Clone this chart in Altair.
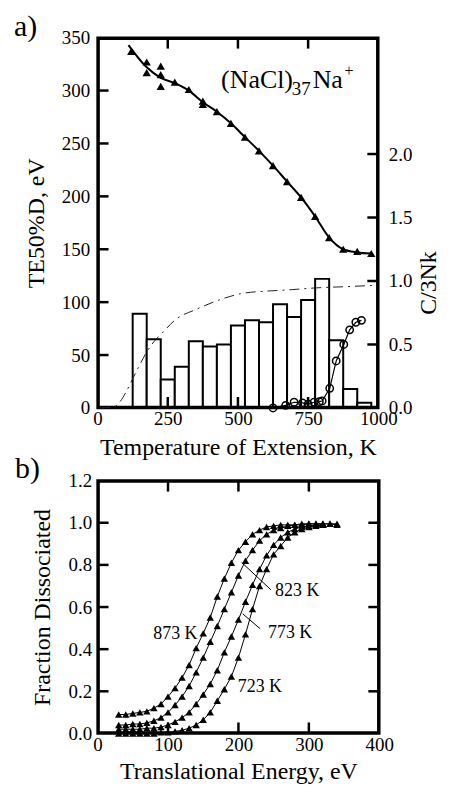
import altair as alt
import pandas as pd

# ---------------- panel a data ----------------
bar_T = [150, 200, 250, 300, 350, 400, 450, 500, 550, 600, 650, 700, 750, 800, 850, 900, 950]
bar_E = [89, 65, 27, 39, 63, 58, 60, 78, 83, 81, 98, 86, 102, 122, 64, 18, 5]

tri_T = [120, 175, 175, 225, 225, 225, 275, 325, 375, 375, 425, 475, 525, 575, 625, 675, 725, 775, 825, 875, 925, 975]
tri_E = [337, 327, 317, 323, 315, 304, 308, 301, 290, 287, 280, 269, 256, 243, 229, 214, 199, 181, 161, 150, 148, 146]

fit_T = [110, 175, 225, 275, 325, 375, 425, 475, 525, 575, 625, 675, 725, 775, 825, 875, 925, 975]
fit_E = [343, 322, 312, 307, 300, 289, 280, 269, 256, 243, 229, 214, 199, 181, 161, 150, 147, 146]

cv_T = [10, 60, 80, 100, 125, 150, 175, 200, 230, 280, 350, 430, 510, 600, 680, 780, 880, 980]
cv_C = [0, 0.01, 0.05, 0.12, 0.23, 0.34, 0.44, 0.52, 0.59, 0.70, 0.775, 0.848, 0.90, 0.92, 0.93, 0.946, 0.955, 0.965]

circ_T = [625, 670, 700, 730, 750, 771, 790, 800, 827, 850, 877, 898, 920, 940]
circ_C = [0.0, 0.02, 0.045, 0.04, 0.03, 0.045, 0.05, 0.055, 0.155, 0.37, 0.5, 0.615, 0.675, 0.69]

xA_ticks = [0, 250, 500, 750, 1000]
xA_inner = [250, 500, 750]
yA_ticks = [0, 50, 100, 150, 200, 250, 300, 350]
yA_inner = [50, 100, 150, 200, 250, 300]
yR_ticks = [0.0, 0.5, 1.0, 1.5, 2.0]
yR_inner = [0.5, 1.0, 1.5, 2.0]

# ---------------- panel b data ----------------
e873 = [30, 40, 50, 60, 70, 80, 90, 100, 110, 120, 130, 140, 150, 160, 170, 180, 190, 200, 210, 220,
        230, 240, 250, 260, 270, 280, 290, 300, 310, 320, 330, 340]
f873 = [0.09, 0.09, 0.095, 0.10, 0.105, 0.12, 0.14, 0.175, 0.215, 0.265, 0.325, 0.405, 0.475, 0.55,
        0.65, 0.735, 0.81, 0.87, 0.91, 0.945, 0.965, 0.98, 0.985, 0.99, 0.99, 0.99, 0.995, 0.995,
        0.995, 0.995, 0.995, 0.99]
e823 = [30, 40, 50, 60, 70, 80, 90, 100, 110, 120, 130, 140, 150, 160, 170, 180, 190, 200, 210, 220,
        230, 240, 250, 260, 270, 280, 290, 300, 310, 320, 330, 340]
f823 = [0.04, 0.04, 0.045, 0.045, 0.05, 0.06, 0.075, 0.10, 0.135, 0.175, 0.225, 0.29, 0.36, 0.435,
        0.51, 0.59, 0.67, 0.75, 0.82, 0.87, 0.915, 0.945, 0.965, 0.975, 0.985, 0.99, 0.99, 0.995,
        0.995, 0.995, 0.995, 0.995]
e773 = [30, 40, 50, 60, 70, 80, 90, 100, 110, 120, 130, 140, 150, 160, 170, 180, 190, 200, 210, 220,
        230, 240, 250, 260, 270, 280, 290, 300, 310, 320]
f773 = [0.02, 0.02, 0.02, 0.02, 0.025, 0.025, 0.03, 0.04, 0.055, 0.075, 0.10, 0.14, 0.185, 0.235,
        0.30, 0.385, 0.46, 0.54, 0.625, 0.705, 0.78, 0.845, 0.895, 0.93, 0.955, 0.97, 0.98, 0.985,
        0.99, 0.99]
e723 = [30, 40, 50, 60, 70, 80, 90, 100, 110, 120, 130, 140, 150, 160, 170, 180, 190, 200, 210, 220,
        230, 240, 250, 260, 270, 280, 290, 300, 310, 320]
f723 = [0.0, 0.0, 0.0, 0.0, 0.0, 0.0, 0.005, 0.005, 0.01, 0.015, 0.025, 0.04, 0.065, 0.10, 0.155,
        0.21, 0.27, 0.36, 0.47, 0.59, 0.70, 0.78, 0.85, 0.89, 0.93, 0.955, 0.97, 0.98, 0.985, 0.99]

lab_text = ["873 K", "823 K", "773 K", "723 K"]
lab_x = [79, 252, 242, 199]
lab_y = [0.47, 0.675, 0.477, 0.222]
lead_x = [204.5, 206]
lead_y = [0.812, 0.568]
lead_x2 = [246, 230.8]
lead_y2 = [0.682, 0.497]

xB_ticks = [0, 100, 200, 300, 400]
xB_inner = [100, 200, 300]
yB_ticks = [0.0, 0.2, 0.4, 0.6, 0.8, 1.0, 1.2]
yB_inner = [0.2, 0.4, 0.6, 0.8, 1.0]

FONT = "Liberation Serif"
W_A, H_A = 282, 372
W_B, H_B = 283, 254
TL = 11      # inward tick length, px
TW = 2.5     # frame / tick width
INSET = 1.0  # px the frame is pulled inside the plot edge

one = pd.DataFrame({"k": [0]})


def frame_rect(xd, yd, xs, ys, ax, ay, px, py):
    df = pd.DataFrame({"x0": [xd[0] + INSET * px], "x1": [xd[1] - INSET * px],
                       "y0": [yd[0] + INSET * py], "y1": [yd[1] - INSET * py]})
    return (alt.Chart(df).mark_rect(fillOpacity=0, stroke="black", strokeWidth=TW)
            .encode(x=alt.X("x0:Q", scale=xs, axis=ax), x2="x1:Q",
                    y=alt.Y("y0:Q", scale=ys, axis=ay), y2="y1:Q"))


def tick_lines(pairs, xs, ys, ax, ay):
    # pairs: list of ((x0, y0), (x1, y1)) segments in data units
    rows = []
    for k, ((x0, y0), (x1, y1)) in enumerate(pairs):
        rows.append({"id": k, "i": 0, "tx": x0, "ty": y0})
        rows.append({"id": k, "i": 1, "tx": x1, "ty": y1})
    return (alt.Chart(pd.DataFrame(rows)).mark_line(color="black", strokeWidth=TW)
            .encode(x=alt.X("tx:Q", scale=xs, axis=ax), y=alt.Y("ty:Q", scale=ys, axis=ay),
                    detail="id:N", order="i:Q"))


# ---------------- panel a ----------------
xdA, ydA, ydR = [0, 1000], [0, 350], [0, 350 / 120]
xsA = alt.Scale(domain=xdA, nice=False, zero=False)
ysA = alt.Scale(domain=ydA, nice=False)
ysR = alt.Scale(domain=ydR, nice=False)
pxA = (xdA[1] - xdA[0]) / W_A      # data units per px
pyA = (ydA[1] - ydA[0]) / H_A
pyR = (ydR[1] - ydR[0]) / H_A

axXA = alt.Axis(title="Temperature of Extension, K", values=xA_ticks, format="d", labelPadding=2,
                titleY=47, titleBaseline="alphabetic")
axYA = alt.Axis(title="TE50%D, eV", values=yA_ticks, format="d", labelPadding=8, titleX=-54,
                titleBaseline="alphabetic")
axYR = alt.Axis(title="C/3Nk", orient="right", values=yR_ticks, format=".1f", labelPadding=10,
                titleAngle=270, titleX=57, titleY=246, titleBaseline="alphabetic")

bars = (alt.Chart(pd.DataFrame({"T": bar_T, "E": bar_E}))
        .transform_calculate(lo="datum.T - 25", hi="datum.T + 25")
        .mark_rect(fill="white", stroke="black", strokeWidth=2)
        .encode(x=alt.X("lo:Q", scale=xsA, axis=axXA), x2="hi:Q",
                y=alt.Y("E:Q", scale=ysA, axis=axYA), y2=alt.datum(0)))

fit = (alt.Chart(pd.DataFrame({"T": fit_T, "E": fit_E}))
       .mark_line(color="black", strokeWidth=2, interpolate="monotone")
       .encode(x=alt.X("T:Q", scale=xsA, axis=axXA), y=alt.Y("E:Q", scale=ysA, axis=axYA)))

tri = (alt.Chart(pd.DataFrame({"T": tri_T, "E": tri_E}))
       .mark_point(shape="triangle-up", filled=True, color="black", size=70, opacity=1)
       .encode(x=alt.X("T:Q", scale=xsA, axis=axXA), y=alt.Y("E:Q", scale=ysA, axis=axYA)))

ann_df = pd.DataFrame({"T": [440], "E": [302]})
ann_enc = dict(x=alt.X("T:Q", scale=xsA, axis=axXA), y=alt.Y("E:Q", scale=ysA, axis=axYA))
ann1 = alt.Chart(ann_df).mark_text(text="(NaCl)", align="left", baseline="alphabetic",
                                   fontSize=26, font=FONT, color="black").encode(**ann_enc)
ann2 = alt.Chart(ann_df).mark_text(text="37", align="left", baseline="alphabetic", dx=71, dy=7,
                                   fontSize=19, font=FONT, color="black").encode(**ann_enc)
ann3 = alt.Chart(ann_df).mark_text(text="Na", align="left", baseline="alphabetic", dx=92,
                                   fontSize=26, font=FONT, color="black").encode(**ann_enc)
ann4 = alt.Chart(ann_df).mark_text(text="+", align="left", baseline="alphabetic", dx=124, dy=-13,
                                   fontSize=16, font=FONT, color="black").encode(**ann_enc)

alab = (alt.Chart(one)
        .mark_text(text="a)", align="left", baseline="alphabetic", fontSize=30, font=FONT, color="black")
        .encode(x=alt.value(-84), y=alt.value(-2)))

curve = (alt.Chart(pd.DataFrame({"T": cv_T, "C": cv_C}))
         .mark_line(color="#222222", strokeWidth=1, strokeDash=[10, 5, 2, 5], interpolate="monotone")
         .encode(x=alt.X("T:Q", scale=xsA, axis=axXA), y=alt.Y("C:Q", scale=ysR, axis=axYR)))

circ_line = (alt.Chart(pd.DataFrame({"T": circ_T, "C": circ_C}))
             .mark_line(color="black", strokeWidth=1.2)
             .encode(x=alt.X("T:Q", scale=xsA, axis=axXA), y=alt.Y("C:Q", scale=ysR, axis=axYR)))
circ_pts = (alt.Chart(pd.DataFrame({"T": circ_T, "C": circ_C}))
            .mark_point(shape="circle", filled=False, color="black", size=55, strokeWidth=1.5, opacity=1)
            .encode(x=alt.X("T:Q", scale=xsA, axis=axXA), y=alt.Y("C:Q", scale=ysR, axis=axYR)))

ticksA = ([((xdA[0], v), (xdA[0] + TL * pxA, v)) for v in yA_inner]
          + [((v, ydA[1]), (v, ydA[1] - TL * pyA)) for v in xA_inner]
          + [((v, ydA[0]), (v, ydA[0] + TL * pyA)) for v in xA_inner])
ticksR = [((xdA[1] - TL * pxA, v), (xdA[1], v)) for v in yR_inner]

leftA = alt.layer(bars, fit, tri,
                  tick_lines(ticksA, xsA, ysA, axXA, axYA),
                  frame_rect(xdA, ydA, xsA, ysA, axXA, axYA, pxA, pyA),
                  ann1, ann2, ann3, ann4, alab)
rightA = alt.layer(curve, circ_line, circ_pts, tick_lines(ticksR, xsA, ysR, axXA, axYR))
panelA = (alt.layer(leftA, rightA).resolve_scale(y="independent")
          .properties(width=W_A, height=H_A))

# ---------------- panel b ----------------
xdB, ydB = [0, 400], [0, 1.2]
xsB = alt.Scale(domain=xdB, nice=False, zero=False)
ysB = alt.Scale(domain=ydB, nice=False)
pxB = (xdB[1] - xdB[0]) / W_B
pyB = (ydB[1] - ydB[0]) / H_B
axXB = alt.Axis(title="Translational Energy, eV", values=xB_ticks, format="d", labelPadding=2,
                titleY=45, titleBaseline="alphabetic")
axYB = alt.Axis(title="Fraction Dissociated", values=yB_ticks, format=".1f", labelPadding=6,
                titleX=-48, titleBaseline="alphabetic")

rows = []
for name, xs, ys in [("873", e873, f873), ("823", e823, f823), ("773", e773, f773), ("723", e723, f723)]:
    for a, b in zip(xs, ys):
        rows.append({"curve": name, "E": a, "F": b})
dfB = pd.DataFrame(rows)

encB = dict(x=alt.X("E:Q", scale=xsB, axis=axXB), y=alt.Y("F:Q", scale=ysB, axis=axYB), detail="curve:N")
linesB = alt.Chart(dfB).mark_line(color="black", strokeWidth=1).encode(**encB)
ptsB = (alt.Chart(dfB).mark_point(shape="triangle-up", filled=True, color="black", size=55, opacity=1)
        .encode(**encB))

lblB = (alt.Chart(pd.DataFrame({"E": lab_x, "F": lab_y, "t": lab_text}))
        .mark_text(align="left", baseline="middle", fontSize=18, font=FONT, color="black")
        .encode(x=alt.X("E:Q", scale=xsB, axis=axXB), y=alt.Y("F:Q", scale=ysB, axis=axYB), text="t:N"))
leadB = (alt.Chart(pd.DataFrame({"E": lead_x, "F": lead_y, "E2": lead_x2, "F2": lead_y2}))
         .mark_rule(color="black", strokeWidth=1)
         .encode(x=alt.X("E:Q", scale=xsB, axis=axXB), y=alt.Y("F:Q", scale=ysB, axis=axYB),
                 x2="E2:Q", y2="F2:Q"))

blab = (alt.Chart(one)
        .mark_text(text="b)", align="left", baseline="alphabetic", fontSize=30, font=FONT, color="black")
        .encode(x=alt.value(-83), y=alt.value(-3)))

ticksB = ([((xdB[0], v), (xdB[0] + TL * pxB, v)) for v in yB_inner]
          + [((xdB[1] - TL * pxB, v), (xdB[1], v)) for v in yB_inner]
          + [((v, ydB[1]), (v, ydB[1] - TL * pyB)) for v in xB_inner]
          + [((v, ydB[0]), (v, ydB[0] + TL * pyB)) for v in xB_inner])

panelB = alt.layer(linesB, ptsB, leadB, lblB,
                   tick_lines(ticksB, xsB, ysB, axXB, axYB),
                   frame_rect(xdB, ydB, xsB, ysB, axXB, axYB, pxB, pyB),
                   blab).properties(width=W_B, height=H_B)

chart = (alt.vconcat(panelA, panelB, spacing=73, bounds="flush")
         .properties(padding={"left": 4, "top": 0, "right": 0, "bottom": 0})
         .configure(background="white")
         .configure_view(stroke="black", strokeWidth=TW)
         .configure_axis(domain=False, ticks=False, grid=False, labelFlush=False, labelOverlap=False,
                         labelFont=FONT, labelFontSize=19, labelColor="black",
                         titleFont=FONT, titleFontSize=24, titleFontWeight="normal", titleColor="black"))

chart.save("out.html", embed_options={"renderer": "svg", "actions": False})
